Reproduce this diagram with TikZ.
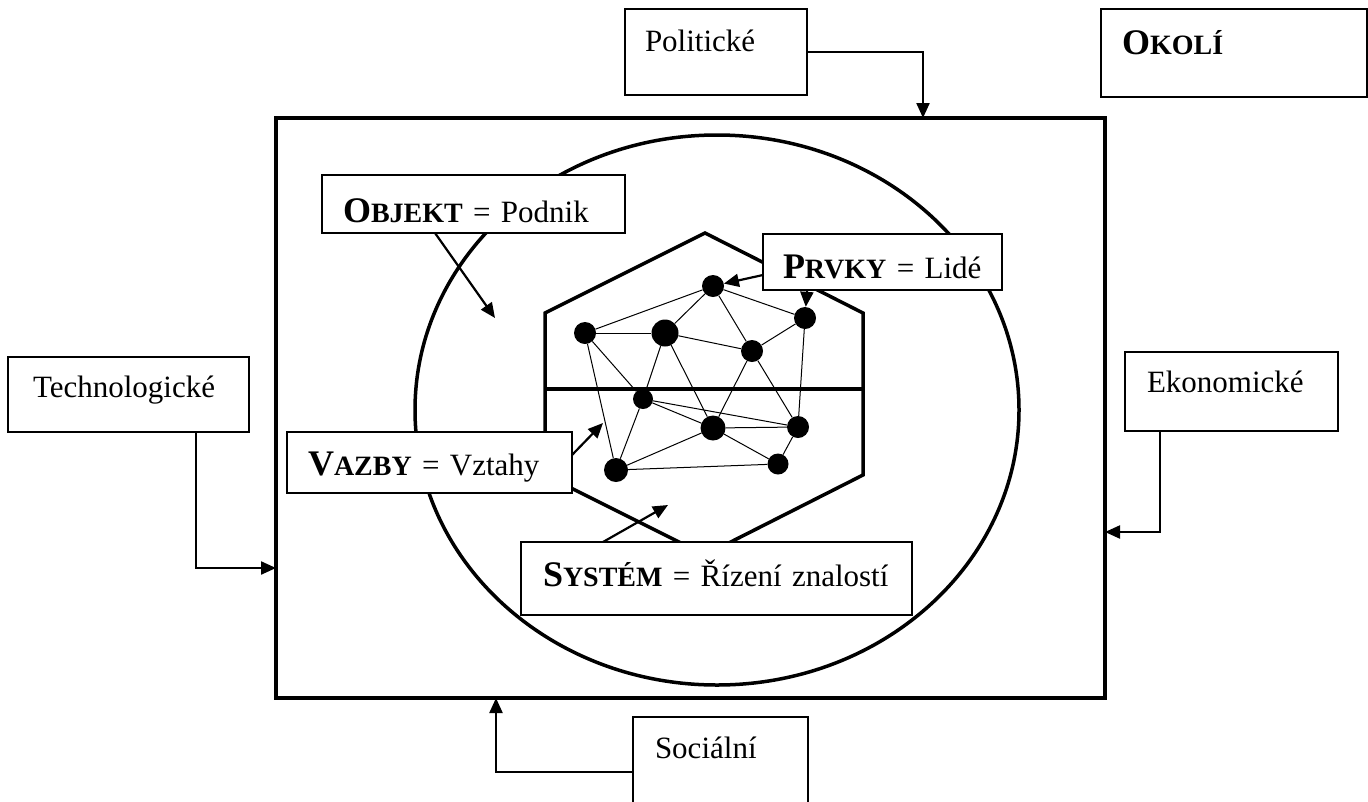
\documentclass[tikz,border=0pt]{standalone}
\usepackage{fontspec}
\setmainfont{Liberation Serif}
\usetikzlibrary{arrows.meta}
\tikzset{E box/.style={draw,fill=white,line width=2pt,inner ysep=0pt,outer sep=0pt,anchor=north west,font=\fontsize{31}{36}\selectfont},
P dot/.style={circle,fill=black,minimum size=22pt,inner sep=0pt},
conn/.style={line width=2.2pt,-{Triangle[length=15pt,width=13pt]}},}
\newcommand{\capsc}[2]{{\bfseries\fontsize{36}{40}\selectfont #1\fontsize{28}{30}\selectfont #2}}

\begin{document}
\begin{tikzpicture}[x=1pt,y=-1pt]
			\useasboundingbox (0,0) rectangle (1368,801);

			% okoli
			\node[draw,line width=4pt,minimum width=829pt,minimum height=580pt,anchor=north west,outer sep=0pt] (env) at (276,118) {};

			% objekt a system
			\draw[line width=3.5pt] (717,410) ellipse [x radius=302, y radius=275];
			\draw[line width=3.5pt] (705,233) -- (863,313) -- (863,475) -- (705,555) -- (545,475) -- (545,313) -- cycle;
			\draw[line width=3.5pt] (545,389) -- (863,389);

			% prvky
			\node[P dot] (p1) at (585,333) {};
			\node[P dot, minimum size=27pt] (p2) at (665,333) {};
			\node[P dot] (p3) at (713,286) {};
			\node[P dot] (p4) at (805,318) {};
			\node[P dot] (p5) at (752,351) {};
			\node[P dot, minimum size=20pt] (p6) at (643,399) {};
			\node[P dot, minimum size=25pt] (p7) at (713,428) {};
			\node[P dot] (p8) at (798,427) {};
			\node[P dot, minimum size=21pt] (p9) at (778,464) {};
			\node[P dot, minimum size=24pt] (p10) at (616,470) {};

			% vazby
			\path[draw, line width=1pt]
				(p1) edge (p2)
				(p1) edge (p3)
				(p2) edge (p3)
				(p3) edge (p4)
				(p3) edge (p5)
				(p2) edge (p5)
				(p4) edge (p5)
				(p4) edge (p8)
				(p5) edge (p8)
				(p5) edge (p7)
				(p2) edge (p6)
				(p2) edge (p7)
				(p1) edge (p6)
				(p1) edge (p10)
				(p6) edge (p10)
				(p6) edge (p7)
				(p6) edge (p8)
				(p7) edge (p8)
				(p7) edge (p9)
				(p8) edge (p9)
				(p10) edge (p7)
				(p10) edge (p9);

			% popisky
			\node[E box, inner xsep=20pt, text width=142pt, text height=42pt, text depth=44pt] (polit) at (625,9) {\mbox{Politické}};
			\node[E box, inner xsep=21pt, text width=224pt, text height=45pt, text depth=43pt] (okoli) at (1101,9) {\mbox{\capsc{O}{KOLÍ}}};
			\node[E box, inner xsep=25pt, text width=191pt, text height=40pt, text depth=35pt] (tech) at (8,357) {\mbox{Technologické}};
			\node[E box, inner xsep=22pt, text width=169pt, text height=40pt, text depth=39pt] (ekon) at (1125,352) {\mbox{Ekonomické}};
			\node[E box, inner xsep=22pt, text width=131pt, text height=41pt, text depth=69pt] (soc) at (633,717) {\mbox{Sociální}};
			\node[E box, inner xsep=21pt, text width=261pt, text height=47pt, text depth=11pt] (obj) at (322,175) {\mbox{\capsc{O}{BJEKT} = Podnik}};
			\node[E box, inner xsep=20pt, text width=199pt, text height=44pt, text depth=12pt] (prvky) at (763,234) {\mbox{\capsc{P}{RVKY} = Lidé}};
			\node[E box, inner xsep=21pt, text width=243pt, text height=43pt, text depth=18pt] (vazby) at (287,432) {\mbox{\capsc{V}{AZBY} = Vztahy}};
			\node[E box, inner xsep=22pt, text width=347pt, text height=44pt, text depth=29pt] (sys) at (521,542) {\mbox{\capsc{S}{YSTÉM} = Řízení znalostí}};

			% vlivy okoli
			\coordinate (politIn) at (923,118);
			\coordinate (techIn) at (276,568);
			\coordinate (ekonIn) at (1105,532);
			\coordinate (socIn) at (496,698);
			\draw[conn] (polit.east) -| (politIn);
			\draw[conn] ([xshift=67.5pt]tech.south) |- (techIn);
			\draw[conn] ([xshift=-71.5pt]ekon.south) |- (ekonIn);
			\draw[conn] (soc.west) -| (socIn);

			% sipky k popiskum
			\coordinate (objTip) at (495,318);
			\coordinate (vazTip) at (603,423);
			\coordinate (sysTip) at (668,505);
			\draw[conn] ([xshift=-38.5pt]obj.south) -- (objTip);
			\draw[conn] ([yshift=-13pt]prvky.west) -- (p3);
			\draw[conn] ([xshift=-75.5pt]prvky.south) -- (p4);
			\draw[conn] ([yshift=7.5pt]vazby.east) -- (vazTip);
			\draw[conn] ([xshift=-113.5pt]sys.north) -- (sysTip);
		\end{tikzpicture}
\end{document}
